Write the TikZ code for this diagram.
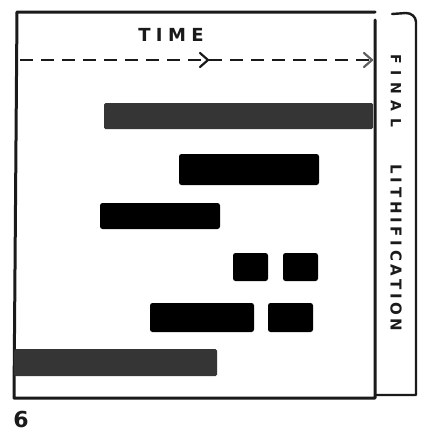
\documentclass[tikz,border=0pt]{standalone}
\usepackage{fontspec}
\setmainfont{DejaVu Sans}
\newfontfamily\finalfont[LetterSpace=46]{DejaVu Sans}
\newfontfamily\lithfont[LetterSpace=25]{DejaVu Sans}
\newfontfamily\timefont[LetterSpace=30]{DejaVu Sans}
\usetikzlibrary{arrows.meta,calc}
\definecolor{ink}{HTML}{1A1A1A}
\definecolor{greybar}{HTML}{353535}
\begin{document}
\begin{tikzpicture}[x=1pt,y=-1pt,
  frame/.style={draw=ink,line width=3pt,line cap=round,line join=round},
  striplinestyle/.style={draw=ink,line width=2.4pt,line cap=round,line join=round},
  blackbar/.style={fill=black,rounded corners=2.5pt},
  greyfill/.style={fill=greybar,rounded corners=1.5pt},
  timeline/.style={draw=ink,line width=2.4pt,dash pattern=on 13pt off 8pt},
  chevron/.style={draw=ink,line width=2.2pt,line cap=round,line join=round},
  lab/.style={text=ink,inner sep=0pt}
]
\useasboundingbox (0,0) rectangle (426,434);
\fill[white] (0,0) rectangle (426,434);
% main frame
\draw[frame] (375,20) -- (375,398) -- (14,398) -- (17,12) -- (375,12);
% lithification strip
\draw[striplinestyle] (375,395) -- (416,395) -- (416,22) to[out=90,in=0] (406,13) -- (392,14);
% time axis
\coordinate (tstart) at (20,60);
\coordinate (tend) at (372,60);
\draw[timeline] (tstart) -- (tend);
\coordinate (tmid) at (208,60);
\draw[chevron] ($(tmid)+(-8,-7)$) -- (tmid) -- ($(tmid)+(-8,7)$);
\draw[chevron,draw=ink!70] ($(tend)+(-8,-7)$) -- (tend) -- ($(tend)+(-8,7)$);
\node[lab,font=\timefont\bfseries\fontsize{18}{18}\selectfont] (time) at (171,35) {TIME};
% bars
\fill[greyfill] (104,103) rectangle (373,129);
\fill[blackbar] (179,154) rectangle (319,185);
\fill[blackbar] (100,203) rectangle (220,229);
\fill[blackbar] (233,253) rectangle (268,281);
\fill[blackbar] (283,253) rectangle (318,281);
\fill[blackbar] (150,303) rectangle (254,332);
\fill[blackbar] (268,303) rectangle (313,332);
\fill[greyfill] (14,349) rectangle (217,376);
% strip text
\node[lab,rotate=-90,font=\finalfont\bfseries\fontsize{14}{14}\selectfont] (final) at (396,91) {FINAL};
\node[lab,rotate=-90,font=\lithfont\bfseries\fontsize{15}{15}\selectfont] (lith) at (396,248) {LITHIFICATION};
% figure number
\node[lab,font=\bfseries\fontsize{22}{22}\selectfont] (num) at (21,419) {6};
\end{tikzpicture}
\end{document}
